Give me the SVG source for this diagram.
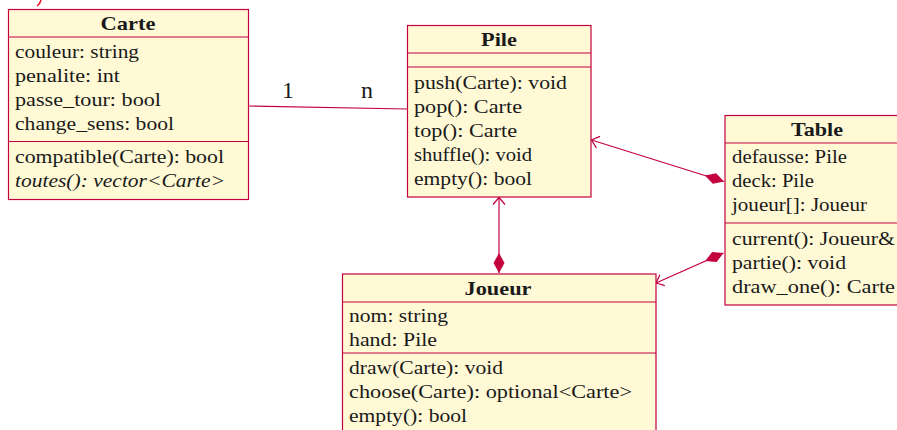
<svg xmlns="http://www.w3.org/2000/svg" width="897" height="430" viewBox="0 0 897 430">
  <style>
    .box { fill: #fff9d6; stroke: #c4003f; stroke-width: 1.2; }
    .sep { stroke: #c4003f; stroke-width: 1.2; fill: none; }
    .t { font-family: "Liberation Serif", "DejaVu Serif", serif; font-size: 19px; fill: #1a1a1a; }
    .h { font-family: "Liberation Serif", "DejaVu Serif", serif; font-size: 19px; font-weight: bold; fill: #1a1a1a; text-anchor: middle; }
    .it { font-style: italic; }
    .lbl { font-family: "Liberation Serif", "DejaVu Serif", serif; font-size: 24px; fill: #1a1a1a; text-anchor: middle; }
    .edge { stroke: #c4003f; stroke-width: 1.2; fill: none; }
  </style>
  <defs>
    <marker id="open" markerUnits="userSpaceOnUse" markerWidth="20" markerHeight="20" viewBox="-10 -10 20 20" refX="0" refY="0" orient="auto-start-reverse" overflow="visible">
      <path d="M -7 -6 L 0 0 L -7 6" fill="none" stroke="#c4003f" stroke-width="1.2"/>
    </marker>
    <marker id="diamond" markerUnits="userSpaceOnUse" markerWidth="24" markerHeight="24" viewBox="-22 -12 24 24" refX="0" refY="0" orient="auto" overflow="visible">
      <polygon points="0,0 -10,-5.5 -20,0 -10,5.5" fill="#c4003f"/>
    </marker>
  </defs>

  <rect width="897" height="430" fill="#ffffff"/>

  <!-- stray stroke at the top-left corner -->
  <path d="M 41 0 Q 40 4 37 6" fill="none" stroke="#e8101a" stroke-width="1.5"/>

  <g id="connectors">
    <line class="edge" x1="248" y1="106" x2="407" y2="109"/>
    <text class="lbl" x="288" y="98">1</text>
    <text class="lbl" x="367" y="98">n</text>
    <path class="edge" d="M 591.5 140 L 724 181.5" marker-start="url(#open)" marker-end="url(#diamond)"/>
    <path class="edge" d="M 499 197.5 L 499 273" marker-start="url(#open)" marker-end="url(#diamond)"/>
    <path class="edge" d="M 656 283 L 723.5 253" marker-start="url(#open)" marker-end="url(#diamond)"/>
  </g>

  <g id="Carte">
    <rect class="box" x="8.5" y="9.5" width="240" height="190"/>
    <line class="sep" x1="8.5" y1="37" x2="248.5" y2="37"/>
    <line class="sep" x1="8.5" y1="141.5" x2="248.5" y2="141.5"/>
    <text class="h" x="128" y="30" textLength="55" lengthAdjust="spacingAndGlyphs">Carte</text>
    <text class="t" x="15" y="58" textLength="124" lengthAdjust="spacingAndGlyphs">couleur: string</text>
    <text class="t" x="15" y="82" textLength="105" lengthAdjust="spacingAndGlyphs">penalite: int</text>
    <text class="t" x="15" y="106" textLength="146" lengthAdjust="spacingAndGlyphs">passe_tour: bool</text>
    <text class="t" x="15" y="130" textLength="159" lengthAdjust="spacingAndGlyphs">change_sens: bool</text>
    <text class="t" x="15" y="163" textLength="209" lengthAdjust="spacingAndGlyphs">compatible(Carte): bool</text>
    <text class="t it" x="15" y="187" textLength="210" lengthAdjust="spacingAndGlyphs">toutes(): vector&lt;Carte&gt;</text>
  </g>

  <g id="Pile">
    <rect class="box" x="407.5" y="25.5" width="183.5" height="171.5"/>
    <line class="sep" x1="407.5" y1="53" x2="591" y2="53"/>
    <line class="sep" x1="407.5" y1="67" x2="591" y2="67"/>
    <text class="h" x="499" y="46" textLength="36" lengthAdjust="spacingAndGlyphs">Pile</text>
    <text class="t" x="414" y="89" textLength="153" lengthAdjust="spacingAndGlyphs">push(Carte): void</text>
    <text class="t" x="414" y="113" textLength="108" lengthAdjust="spacingAndGlyphs">pop(): Carte</text>
    <text class="t" x="414" y="137" textLength="103" lengthAdjust="spacingAndGlyphs">top(): Carte</text>
    <text class="t" x="414" y="161" textLength="118" lengthAdjust="spacingAndGlyphs">shuffle(): void</text>
    <text class="t" x="414" y="185" textLength="118" lengthAdjust="spacingAndGlyphs">empty(): bool</text>
  </g>

  <g id="Table">
    <rect class="box" x="725" y="115.5" width="190" height="189.5"/>
    <line class="sep" x1="725" y1="143" x2="915" y2="143"/>
    <line class="sep" x1="725" y1="223" x2="915" y2="223"/>
    <text class="h" x="817" y="136" textLength="52" lengthAdjust="spacingAndGlyphs">Table</text>
    <text class="t" x="732" y="163" textLength="115" lengthAdjust="spacingAndGlyphs">defausse: Pile</text>
    <text class="t" x="732" y="187" textLength="82" lengthAdjust="spacingAndGlyphs">deck: Pile</text>
    <text class="t" x="732" y="211" textLength="135" lengthAdjust="spacingAndGlyphs">joueur[]: Joueur</text>
    <text class="t" x="732" y="245" textLength="163" lengthAdjust="spacingAndGlyphs">current(): Joueur&amp;</text>
    <text class="t" x="732" y="269" textLength="114" lengthAdjust="spacingAndGlyphs">partie(): void</text>
    <text class="t" x="732" y="293" textLength="163" lengthAdjust="spacingAndGlyphs">draw_one(): Carte</text>
  </g>

  <g id="Joueur">
    <rect class="box" x="342.5" y="274" width="313.5" height="170"/>
    <line class="sep" x1="342.5" y1="302" x2="656" y2="302"/>
    <line class="sep" x1="342.5" y1="353" x2="656" y2="353"/>
    <text class="h" x="498" y="295" textLength="67" lengthAdjust="spacingAndGlyphs">Joueur</text>
    <text class="t" x="349" y="322" textLength="99" lengthAdjust="spacingAndGlyphs">nom: string</text>
    <text class="t" x="349" y="346" textLength="88" lengthAdjust="spacingAndGlyphs">hand: Pile</text>
    <text class="t" x="349" y="374" textLength="154" lengthAdjust="spacingAndGlyphs">draw(Carte): void</text>
    <text class="t" x="349" y="398" textLength="283" lengthAdjust="spacingAndGlyphs">choose(Carte): optional&lt;Carte&gt;</text>
    <text class="t" x="349" y="422" textLength="118" lengthAdjust="spacingAndGlyphs">empty(): bool</text>
  </g>
</svg>
